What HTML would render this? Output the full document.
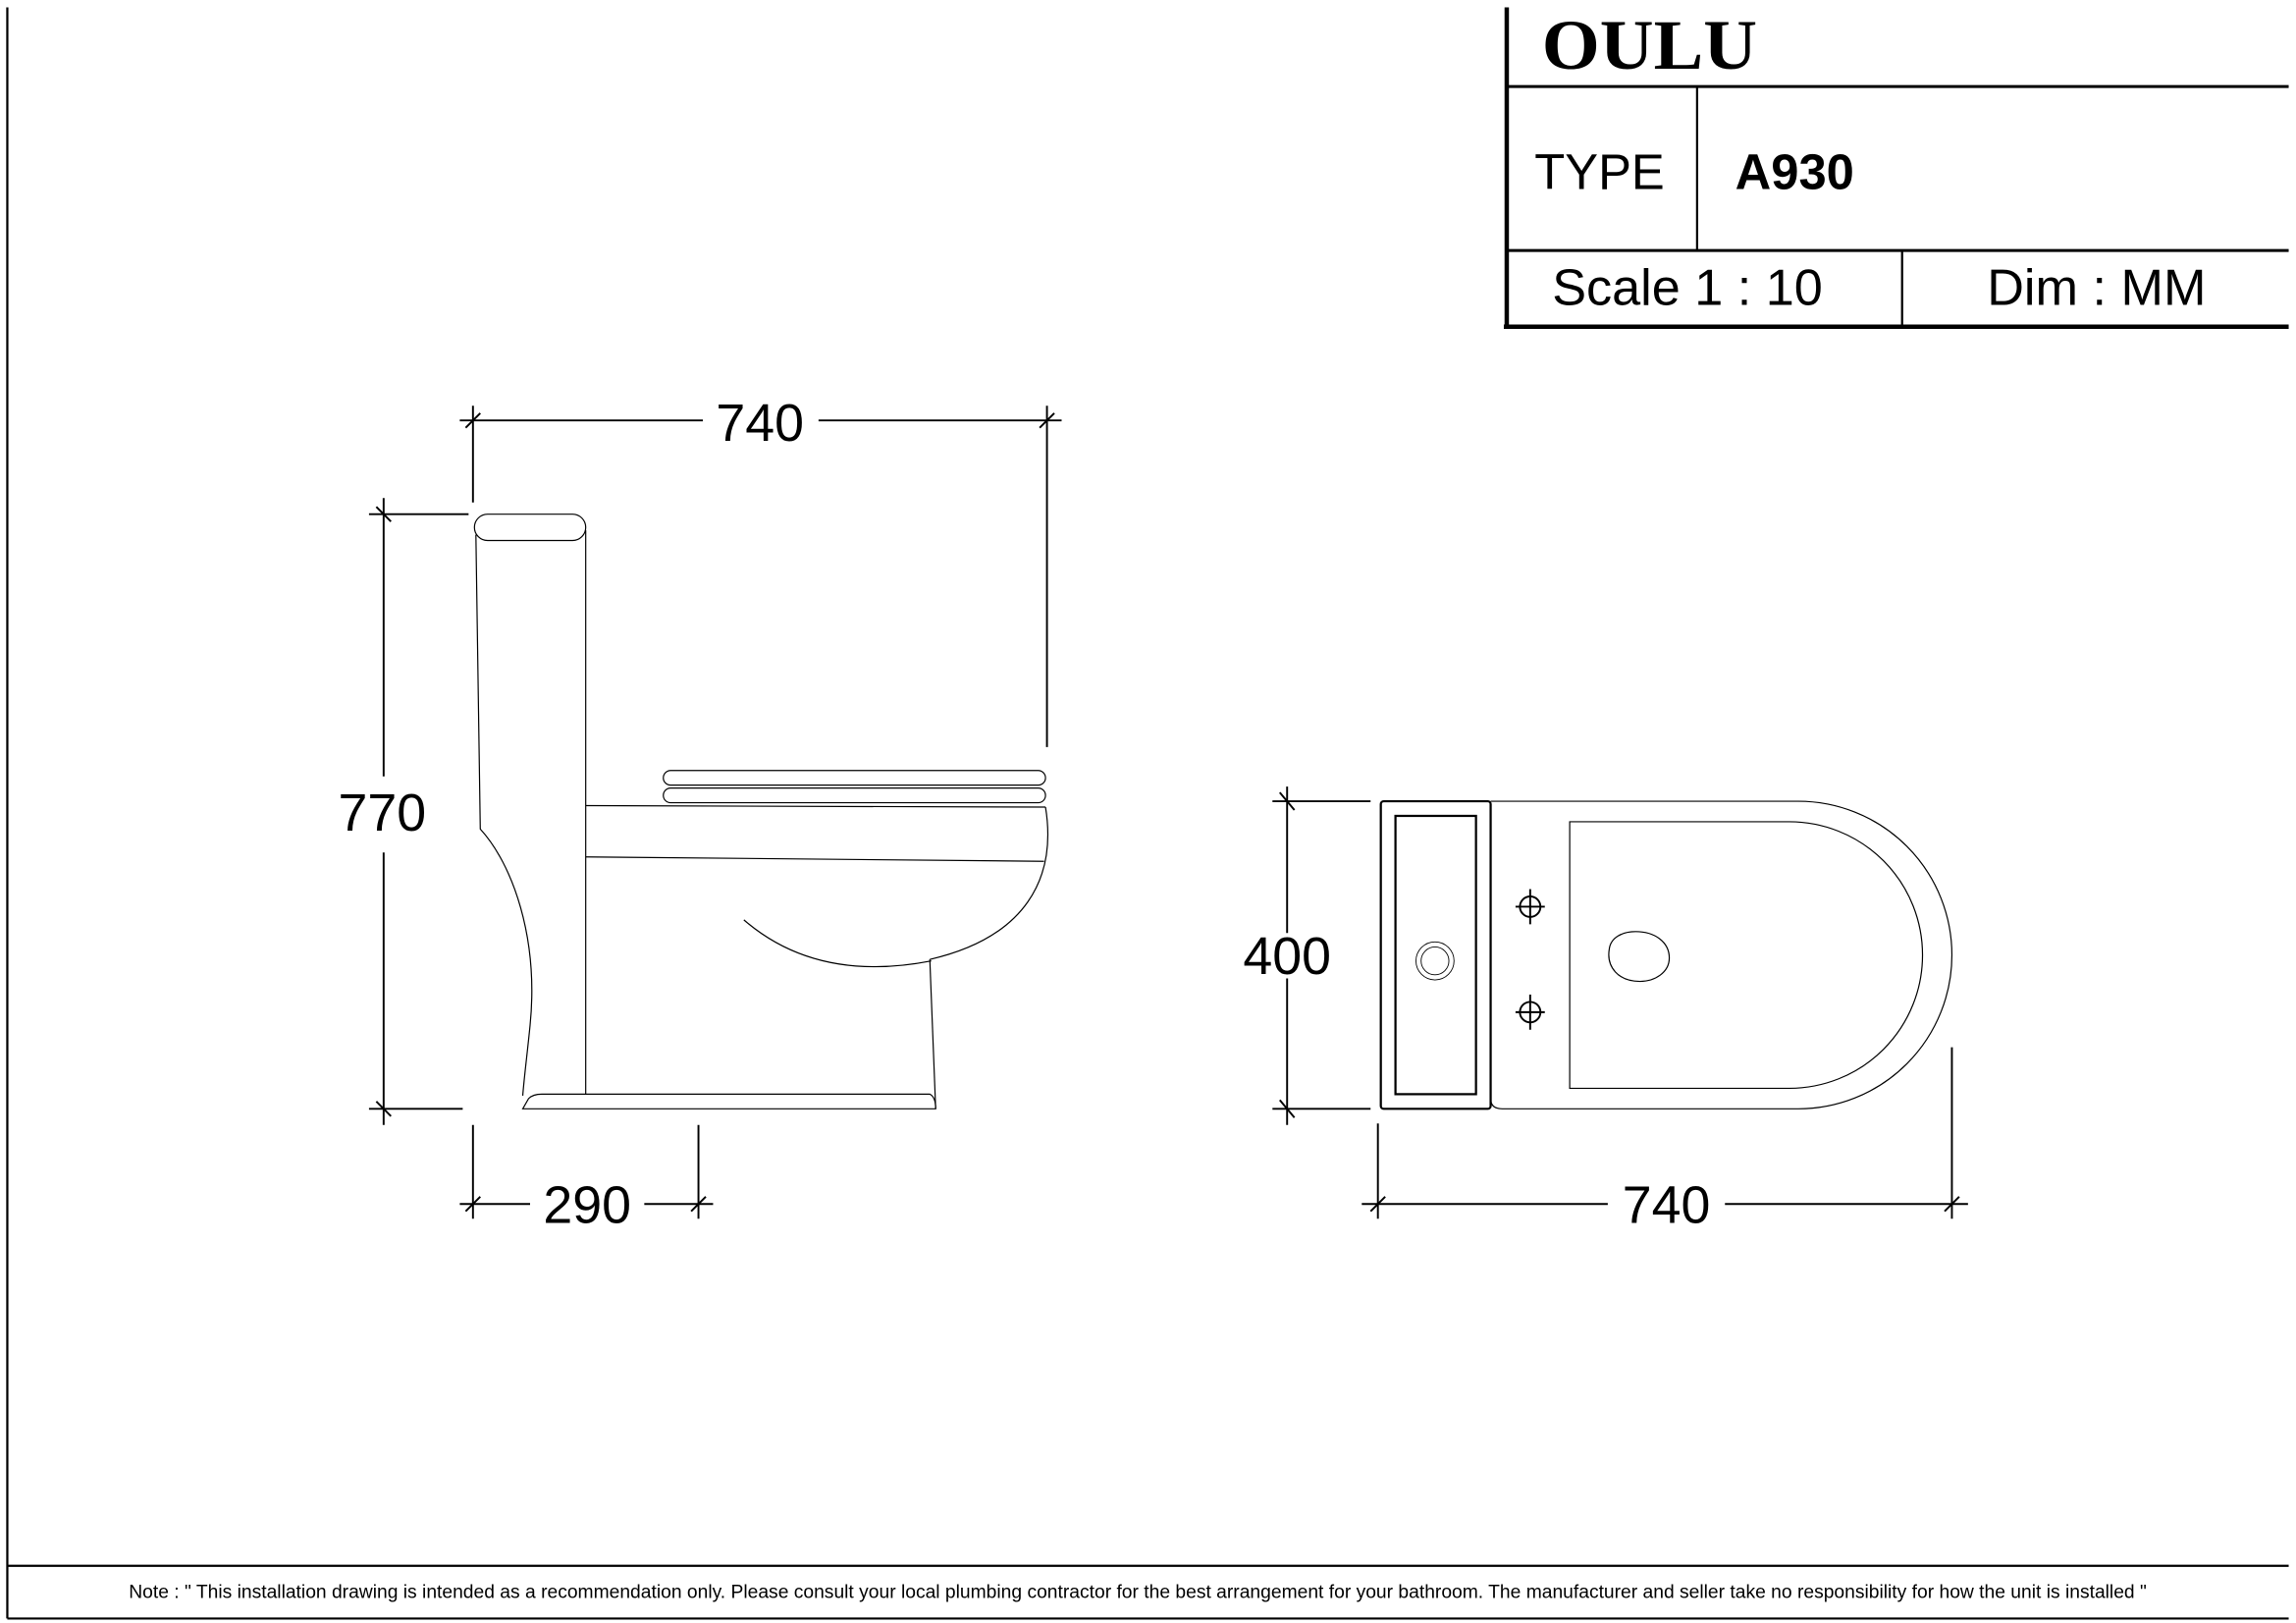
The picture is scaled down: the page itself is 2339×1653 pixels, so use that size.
<!DOCTYPE html>
<html><head><meta charset="utf-8"><style>html,body{margin:0;padding:0;background:#fff}svg{display:block}</style></head>
<body>
<svg width="2339" height="1653" viewBox="0 0 1568 1108" xmlns="http://www.w3.org/2000/svg" font-family="Liberation Sans, sans-serif">
<rect width="1568" height="1108" fill="#fff"/>
<g stroke="#000" fill="none">
<line x1="5" y1="5" x2="5" y2="1105" stroke-width="1.5"/>
<line x1="5" y1="1069" x2="1563" y2="1069" stroke-width="1.5"/>
<line x1="5" y1="1105" x2="1563" y2="1105" stroke-width="1.5"/>
<line x1="1029" y1="5" x2="1029" y2="224" stroke-width="3"/>
<line x1="1029" y1="59" x2="1563" y2="59" stroke-width="2"/>
<line x1="1029" y1="171" x2="1563" y2="171" stroke-width="2"/>
<line x1="1027" y1="223" x2="1563" y2="223" stroke-width="3"/>
<line x1="1159" y1="59" x2="1159" y2="171" stroke-width="1.5"/>
<line x1="1299" y1="171" x2="1299" y2="223" stroke-width="1.5"/>

<g stroke-width="0.8">
<rect x="324" y="351" width="76" height="18" rx="9"/>
<path d="M325 365 L328 566 C350 590 368 640 362 700 C360 720 358 735 357 748"/>
<line x1="400" y1="362" x2="400" y2="747"/>
<rect x="453" y="526" width="261" height="10" rx="5"/>
<rect x="453" y="538" width="261" height="10" rx="5"/>
<line x1="400" y1="550" x2="714" y2="551"/>
<line x1="400" y1="585" x2="713" y2="588"/>
<path d="M714 551 C722 600 700 640 635 655"/>
<path d="M508 628 C545 660 590 665 636 656"/>
<line x1="635" y1="655" x2="639" y2="757"/>
<path d="M357 757 L361 750 Q364 747 370 747 L635 747 Q639 749 639 757 Z"/>
</g>

<rect x="943" y="547" width="75" height="210" rx="2" stroke-width="1.5"/>
<rect x="953" y="557" width="55" height="190" stroke-width="1.5"/>
<circle cx="980" cy="656" r="13" stroke-width="0.6"/>
<circle cx="980" cy="656" r="9.5" stroke-width="0.6"/>
<path d="M1018 547 L1228 547 A105 105 0 0 1 1228 757 L1026 757 Q1018 757 1018 750" stroke-width="0.8"/>
<path d="M1072 561 L1222 561 A91 91 0 0 1 1222 743 L1072 743 Z" stroke-width="0.8"/>
<path d="M1117 636 C1130 636 1140 643 1140 654 C1140 664 1130 670 1120 670 C1105 670 1097 660 1099 648 C1100 640 1108 636 1117 636 Z" stroke-width="0.8"/>
<g stroke-width="1.3">
<circle cx="1045" cy="619" r="7"/><line x1="1035" y1="619" x2="1055" y2="619"/><line x1="1045" y1="607" x2="1045" y2="631"/>
<circle cx="1045" cy="691" r="7"/><line x1="1035" y1="691" x2="1055" y2="691"/><line x1="1045" y1="679" x2="1045" y2="703"/>
</g>

<g stroke-width="1.3">
<line x1="314" y1="287" x2="480" y2="287"/><line x1="559" y1="287" x2="725" y2="287"/>
<line x1="323" y1="277" x2="323" y2="343"/><line x1="715" y1="277" x2="715" y2="510"/>
<line x1="318" y1="292" x2="328" y2="282"/><line x1="710" y1="292" x2="720" y2="282"/>
<line x1="262" y1="340" x2="262" y2="530"/><line x1="262" y1="582" x2="262" y2="768"/>
<line x1="252" y1="351" x2="320" y2="351"/><line x1="252" y1="757" x2="316" y2="757"/>
<line x1="257" y1="346" x2="267" y2="356"/><line x1="257" y1="752" x2="267" y2="762"/>
<line x1="314" y1="822" x2="362" y2="822"/><line x1="440" y1="822" x2="487" y2="822"/>
<line x1="323" y1="768" x2="323" y2="832"/><line x1="477" y1="768" x2="477" y2="832"/>
<line x1="318" y1="827" x2="328" y2="817"/><line x1="472" y1="827" x2="482" y2="817"/>
<line x1="879" y1="537" x2="879" y2="637"/><line x1="879" y1="668" x2="879" y2="768"/>
<line x1="869" y1="547" x2="936" y2="547"/><line x1="869" y1="757" x2="936" y2="757"/>
<line x1="874" y1="541" x2="884" y2="553"/><line x1="874" y1="751" x2="884" y2="763"/>
<line x1="930" y1="822" x2="1098" y2="822"/><line x1="1178" y1="822" x2="1344" y2="822"/>
<line x1="941" y1="767" x2="941" y2="832"/><line x1="1333" y1="715" x2="1333" y2="832"/>
<line x1="936" y1="827" x2="946" y2="817"/><line x1="1328" y1="827" x2="1338" y2="817"/>
</g>
</g>

<g fill="#000">
<text x="1053" y="47" font-family="Liberation Serif, serif" font-weight="bold" font-size="48" textLength="147" lengthAdjust="spacingAndGlyphs">OULU</text>
<text x="1048" y="129" font-size="34">TYPE</text>
<text x="1185" y="129" font-size="34" font-weight="bold">A930</text>
<text x="1060" y="208" font-size="35">Scale 1 : 10</text>
<text x="1357" y="208" font-size="35">Dim : MM</text>
<text x="519" y="301" font-size="36" text-anchor="middle">740</text>
<text x="261" y="567" font-size="36" text-anchor="middle">770</text>
<text x="401" y="835" font-size="36" text-anchor="middle">290</text>
<text x="879" y="665" font-size="36" text-anchor="middle">400</text>
<text x="1138" y="835" font-size="36" text-anchor="middle">740</text>
<text x="88" y="1091" font-size="12.8" textLength="1378" lengthAdjust="spacingAndGlyphs">Note : " This installation drawing is intended as a recommendation only. Please consult your local plumbing contractor for the best arrangement for your bathroom. The manufacturer and seller take no responsibility for how the unit is installed "</text>
</g>
</svg>
</body></html>
